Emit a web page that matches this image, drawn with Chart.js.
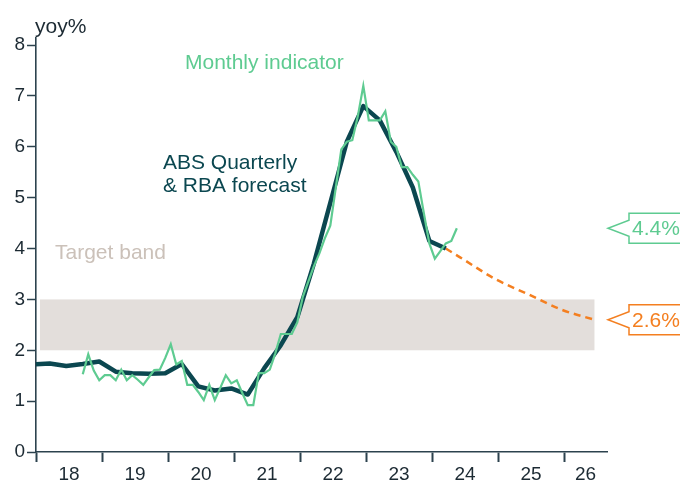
<!DOCTYPE html>
<html>
<head>
<meta charset="utf-8">
<script src="https://cdn.jsdelivr.net/npm/chart.js@4.4.0/dist/chart.umd.min.js"></script>
<style>
  html, body { margin: 0; padding: 0; background: #fff; }
</style>
</head>
<body>
<canvas id="cpiChart" width="680" height="486"></canvas>
<script>
// quarterly ABS CPI (trimmed mean, yoy%)
const quarterDates = [
  '2017-12',
  '2018-03', '2018-06', '2018-09', '2018-12',
  '2019-03', '2019-06', '2019-09', '2019-12',
  '2020-03', '2020-06', '2020-09', '2020-12',
  '2021-03', '2021-06', '2021-09', '2021-12',
  '2022-03', '2022-06', '2022-09', '2022-12',
  '2023-03', '2023-06', '2023-09', '2023-12',
  '2024-03'
];
const quarterValues = [
  1.72,
  1.74, 1.69, 1.73, 1.78,
  1.58, 1.55, 1.54, 1.55,
  1.73, 1.29, 1.21, 1.25,
  1.13, 1.65, 2.10, 2.65,
  3.70, 4.90, 6.10, 6.80,
  6.52, 5.90, 5.20, 4.15,
  4.00
];

// monthly indicator
const monthlyDates = [
  '2018-09', '2018-10', '2018-11', '2018-12',
  '2019-01', '2019-02', '2019-03', '2019-04', '2019-05', '2019-06', '2019-07', '2019-08', '2019-09', '2019-10', '2019-11', '2019-12',
  '2020-01', '2020-02', '2020-03', '2020-04', '2020-05', '2020-06', '2020-07', '2020-08', '2020-09', '2020-10', '2020-11', '2020-12',
  '2021-01', '2021-02', '2021-03', '2021-04', '2021-05', '2021-06', '2021-07', '2021-08', '2021-09', '2021-10', '2021-11', '2021-12',
  '2022-01', '2022-02', '2022-03', '2022-04', '2022-05', '2022-06', '2022-07', '2022-08', '2022-09', '2022-10', '2022-11', '2022-12',
  '2023-01', '2023-02', '2023-03', '2023-04', '2023-05', '2023-06', '2023-07', '2023-08', '2023-09', '2023-10', '2023-11', '2023-12',
  '2024-01', '2024-02', '2024-03', '2024-04', '2024-05'
];
const monthlyValues = [
  1.53, 1.92, 1.60, 1.41,
  1.51, 1.51, 1.41, 1.62, 1.41, 1.51, 1.42, 1.32, 1.47, 1.61, 1.62, 1.85,
  2.12, 1.72, 1.79, 1.32, 1.32, 1.18, 1.02, 1.32, 1.02, 1.26, 1.51, 1.35,
  1.41, 1.16, 0.92, 0.92, 1.55, 1.55, 1.62, 1.94, 2.32, 2.32, 2.32, 2.55,
  3.05, 3.35, 3.65, 3.90, 4.20, 4.45, 5.20, 5.95, 6.10, 6.13, 6.60, 7.20,
  6.52, 6.52, 6.52, 6.70, 6.10, 6.00, 5.60, 5.60, 5.45, 5.32, 4.70, 4.10,
  3.80, 3.95, 4.10, 4.15, 4.40
];

// RBA forecast
const forecastDates = ['2024-03', '2024-06', '2024-12', '2025-06', '2025-12', '2026-06'];
const forecastValues = [4.0, 3.8, 3.4, 3.1, 2.8, 2.6];

const targetBand = [2, 3];
const yTicks = [0, 1, 2, 3, 4, 5, 6, 7, 8];
const xTickYears = [2018, 2019, 2020, 2021, 2022, 2023, 2024, 2025, 2026];
const xTickLabels = ['18', '19', '20', '21', '22', '23', '24', '25', '26'];

const GREEN = '#5ecb91';
const DARK = '#0b4750';
const ORANGE = '#f47f20';
const BAND = '#e3dedb';
const AXIS = '#2c424e';
const TEXT = '#1c2a33';
const FONT = '"Liberation Sans", Arial, sans-serif';

// 'YYYY-MM' -> decimal year, middle of the month
function toYear(d) {
  const [y, m] = d.split('-').map(Number);
  return y + (m - 0.5) / 12;
}
function toPoints(dates, values) {
  return dates.map((d, i) => ({ x: toYear(d), y: values[i] }));
}

const bandPlugin = {
  id: 'band',
  beforeDatasetsDraw(chart) {
    const { ctx, scales: { x, y } } = chart;
    const x0 = x.getPixelForValue(2018.06);
    const x1 = x.getPixelForValue(2026.46);
    const yTop = y.getPixelForValue(targetBand[1]);
    const yBot = y.getPixelForValue(targetBand[0]);
    ctx.save();
    ctx.fillStyle = BAND;
    ctx.fillRect(x0, yTop, x1 - x0, yBot - yTop);
    ctx.restore();
  }
};

function callout(ctx, yc, color, text) {
  const left = 629, tip = 608, half = 15, notch = 8;
  ctx.save();
  ctx.beginPath();
  ctx.moveTo(690, yc - half);
  ctx.lineTo(left, yc - half);
  ctx.lineTo(left, yc - notch);
  ctx.lineTo(tip, yc);
  ctx.lineTo(left, yc + notch);
  ctx.lineTo(left, yc + half);
  ctx.lineTo(690, yc + half);
  ctx.fillStyle = '#fff';
  ctx.fill();
  ctx.strokeStyle = color;
  ctx.lineWidth = 1.5;
  ctx.stroke();
  ctx.fillStyle = color;
  ctx.font = '21px ' + FONT;
  ctx.textAlign = 'left';
  ctx.textBaseline = 'middle';
  ctx.fillText(text, 632, yc + 1);
  ctx.restore();
}

const labelPlugin = {
  id: 'labels',
  afterDraw(chart) {
    const { ctx, scales: { x, y } } = chart;
    ctx.save();
    ctx.textBaseline = 'alphabetic';
    ctx.textAlign = 'left';
    ctx.font = '21px ' + FONT;

    ctx.fillStyle = TEXT;
    ctx.fillText('yoy%', 35, 33);

    ctx.fillStyle = GREEN;
    ctx.fillText('Monthly indicator', 185, 69);

    ctx.fillStyle = DARK;
    ctx.fillText('ABS Quarterly', 163, 169);
    ctx.fillText('& RBA forecast', 163, 192);

    ctx.fillStyle = '#cbc1b9';
    ctx.fillText('Target band', 55, 259);

    // year labels, centred between ticks
    ctx.font = '19px ' + FONT;
    ctx.fillStyle = TEXT;
    ctx.textAlign = 'center';
    xTickYears.forEach((yr, i) => {
      const a = x.getPixelForValue(yr);
      const b = x.getPixelForValue(Math.min(yr + 1, x.max));
      ctx.fillText(xTickLabels[i], (a + b) / 2, 480);
    });
    ctx.restore();

    const lastM = monthlyValues[monthlyValues.length - 1];
    const lastF = forecastValues[forecastValues.length - 1];
    callout(ctx, y.getPixelForValue(lastM), GREEN, lastM.toFixed(1) + '%');
    callout(ctx, y.getPixelForValue(lastF), ORANGE, lastF.toFixed(1) + '%');
  }
};

const ctx = document.getElementById('cpiChart').getContext('2d');
new Chart(ctx, {
  type: 'line',
  data: {
    datasets: [
      {
        label: 'Monthly indicator',
        data: toPoints(monthlyDates, monthlyValues),
        borderColor: GREEN,
        borderWidth: 2.2,
        pointRadius: 0,
        tension: 0,
        order: 0
      },
      {
        label: 'ABS Quarterly',
        data: toPoints(quarterDates, quarterValues),
        borderColor: DARK,
        borderWidth: 4.5,
        borderJoinStyle: 'round',
        pointRadius: 0,
        tension: 0,
        clip: 0,
        order: 1
      },
      {
        label: 'RBA forecast',
        data: toPoints(forecastDates, forecastValues),
        borderColor: ORANGE,
        borderWidth: 2.5,
        borderDash: [7, 5],
        pointRadius: 0,
        cubicInterpolationMode: 'monotone',
        order: 2
      }
    ]
  },
  options: {
    responsive: false,
    animation: false,
    events: [],
    layout: { padding: { top: 38, right: 73, left: 0, bottom: 0 } },
    plugins: {
      legend: { display: false },
      tooltip: { enabled: false }
    },
    scales: {
      x: {
        type: 'linear',
        min: 2018,
        max: 2026.65,
        afterBuildTicks: s => { s.ticks = xTickYears.map(v => ({ value: v })); },
        afterFit: s => { s.height = 34; },
        grid: { drawOnChartArea: false, tickLength: 10, tickWidth: 2, tickColor: AXIS },
        border: { color: AXIS, width: 1.6 },
        ticks: { display: false }
      },
      y: {
        min: 0,
        max: 8.14,
        afterBuildTicks: s => { s.ticks = yTicks.map(v => ({ value: v })); },
        afterFit: s => { s.width = 36; },
        grid: { drawOnChartArea: false, tickLength: 9, tickWidth: 1.5, tickColor: AXIS },
        border: { color: AXIS, width: 1.6 },
        ticks: {
          color: TEXT,
          padding: 2,
          font: { size: 19, family: FONT },
          callback: v => String(v)
        }
      }
    }
  },
  plugins: [bandPlugin, labelPlugin]
});
</script>
</body>
</html>
